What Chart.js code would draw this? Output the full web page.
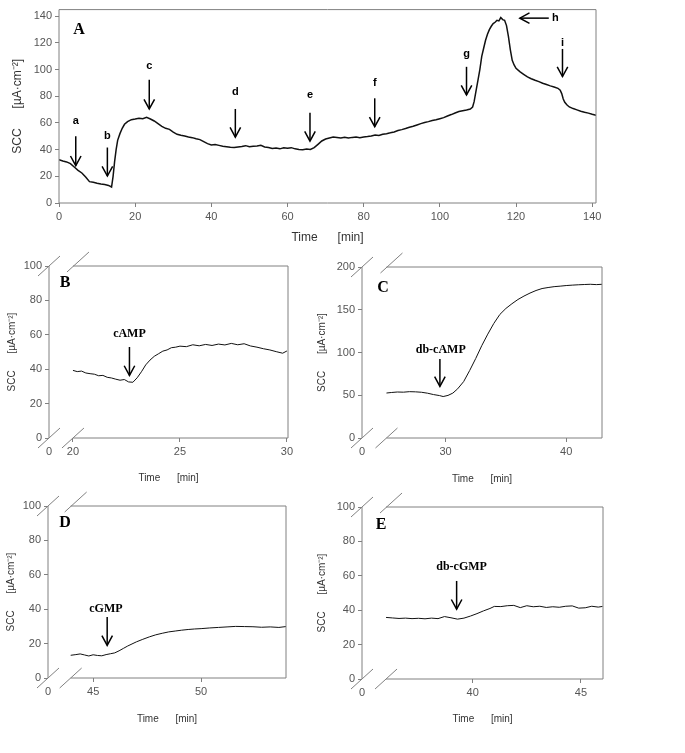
<!DOCTYPE html>
<html>
<head>
<meta charset="utf-8">
<script src="https://cdn.jsdelivr.net/npm/chart.js@4.4.1/dist/chart.umd.min.js"></script>
<style>
  html, body { margin: 0; padding: 0; background: #fff; }
  #figure { position: relative; width: 685px; height: 753px; overflow: hidden; }
  #figure canvas { position: absolute; }
</style>
</head>
<body>
<div id="figure">
  <canvas id="panelA" width="640" height="250" style="left:0;top:0"></canvas>
  <canvas id="panelB" width="330" height="245" style="left:0;top:250px"></canvas>
  <canvas id="panelC" width="385" height="245" style="left:300px;top:250px"></canvas>
  <canvas id="panelD" width="330" height="245" style="left:0;top:490px"></canvas>
  <canvas id="panelE" width="385" height="245" style="left:300px;top:490px"></canvas>
</div>
<script>
// Short-circuit current traces (SCC, uA/cm2) against time (min)

// Panel A - whole experiment
const timeA = [0, 1, 2, 3, 4, 5, 6, 7, 8, 9, 10, 11, 12, 13, 13.8, 14.2, 14.6, 15, 15.4, 16, 16.6, 17.2, 18, 19,
  20, 21, 22, 23, 24, 25, 26, 27, 28, 29, 30, 31, 32, 33, 34, 35, 36, 37, 38, 39, 40, 41, 42, 43, 44, 45,
  46, 47, 48, 49, 50, 51, 52, 53, 54, 55, 56, 57, 58, 59, 60, 61, 62, 63, 64, 65, 66, 67, 68, 69, 70, 71,
  72, 73, 74, 75, 76, 77, 78, 79, 80, 81, 82, 83, 84, 85, 86, 87, 88, 89, 90, 91, 92, 93, 94, 95, 96, 97,
  98, 99, 100, 101, 102, 103, 104, 105, 106, 107, 108, 108.6, 109, 109.5, 110, 110.5, 111, 111.5, 112,
  112.5, 113, 113.5, 114, 114.5, 115, 115.5, 116, 116.5, 117, 117.5, 118, 118.5, 119, 119.5, 120, 121,
  122, 123, 124, 125, 126, 127, 128, 129, 130, 131, 131.6, 132, 132.4, 132.8, 133.4, 134, 135, 136, 137,
  138, 139, 140, 141];
const sccA = [32.5, 31.5, 30.8, 29.5, 27, 24.5, 22.5, 19.5, 16, 15.5, 14.8, 14.2, 13.8, 13.2, 12, 20, 31, 40,
  47, 52, 56, 59, 61, 62.5, 63, 63.6, 63.2, 64.2, 63, 61.5, 59.5, 57.5, 56, 55.2, 53.2, 51.5, 50.8, 50.2,
  49.5, 49, 48.2, 47.5, 46, 44.5, 43.5, 43.8, 43.2, 42.6, 42.2, 41.8, 41.6, 42, 42.4, 43, 42.2, 42.5, 42.8,
  43.2, 42, 41.6, 40.8, 41.2, 40.6, 41.4, 41, 41.5, 40.6, 40.2, 40, 40.4, 40.1, 41.5, 44, 46.5, 48, 48.7,
  49.4, 49.1, 48.8, 49.3, 48.7, 49.2, 49.4, 49, 49.5, 49.8, 50.2, 51, 50.6, 51.5, 52, 52.6, 53.3, 54.3, 55,
  55.8, 56.8, 57.5, 58.5, 59.5, 60.3, 61, 61.8, 62.4, 63.2, 64, 65.2, 66.3, 67.5, 68.6, 69.2, 69.8, 70.5,
  72, 76, 84, 92, 100, 110, 116, 122, 126.5, 130, 132.5, 134.5, 135.5, 137, 136.5, 139, 137.5, 137, 133,
  125, 115, 107, 103.5, 101, 98.5, 96.5, 94.5, 93.2, 92, 91, 89.8, 88.8, 87.8, 87, 86, 84.5, 82, 78, 75.5,
  73.5, 72, 70.8, 69.8, 68.8, 68, 67.4, 66.5, 65.8];
const ticksAX = [0, 20, 40, 60, 80, 100, 120, 140];
const ticksAY = [0, 20, 40, 60, 80, 100, 120, 140];

// Panel B - cAMP
const timeB = [20.0, 20.2, 20.4, 20.6, 20.8, 21.0, 21.2, 21.4, 21.6, 21.8, 22.0, 22.2, 22.4, 22.6, 22.8,
  23.0, 23.2, 23.4, 23.6, 23.8, 24.0, 24.2, 24.4, 24.6, 24.8, 25.0, 25.3, 25.6, 25.9, 26.2, 26.5, 26.8,
  27.1, 27.4, 27.7, 28.0, 28.3, 28.6, 28.9, 29.2, 29.5, 29.8, 30.0];
const sccB = [39.3, 38.6, 38.9, 37.8, 37.4, 37.1, 36.2, 36.4, 35.3, 34.9, 34.2, 33.6, 34.0, 32.6, 32.4,
  35, 38.5, 42.5, 45.3, 47.5, 49, 50.5, 51.2, 52.5, 52.8, 53.4, 53.1, 54.2, 53.6, 54.4, 53.8, 54.6, 54.1,
  55, 54.2, 54.8, 53.5, 52.8, 51.9, 51.2, 50.2, 49.3, 50.6];
const ticksBX = [20, 25, 30];
const ticksBY = [0, 20, 40, 60, 80, 100];

// Panel C - db-cAMP
const timeC = [25.1, 25.5, 26, 26.5, 27, 27.5, 28, 28.5, 29, 29.5, 29.8, 30.2, 30.6, 31, 31.5, 32, 32.5,
  33, 33.5, 34, 34.5, 35, 35.5, 36, 36.5, 37, 37.5, 38, 38.5, 39, 39.5, 40, 40.5, 41, 41.5, 42, 42.5, 43];
const sccC = [52.6, 53.2, 53.8, 53.6, 54.2, 54, 53.5, 52.4, 50.8, 49.6, 48.5, 49.8, 52.5, 57.5, 66, 79,
  93, 108, 121.5, 134, 144.5, 151.5, 157, 162, 166, 169.5, 172.5, 174.8, 176, 177, 177.6, 178.3, 178.8,
  179.2, 179.5, 179.8, 179.4, 179.8];
const ticksCX = [30, 40];
const ticksCY = [0, 50, 100, 150, 200];

// Panel D - cGMP
const timeD = [43.96, 44.2, 44.4, 44.6, 44.8, 45.0, 45.2, 45.4, 45.6, 45.8, 46.0, 46.2, 46.4, 46.6, 46.8,
  47.0, 47.3, 47.6, 47.9, 48.2, 48.5, 48.8, 49.1, 49.4, 49.7, 50.0, 50.4, 50.8, 51.2, 51.6, 52.0, 52.4,
  52.8, 53.2, 53.6, 53.93];
const sccD = [13.2, 13.6, 14, 13.4, 12.8, 13.5, 13.1, 12.9, 13.6, 14.1, 14.6, 15.8, 17.2, 18.6, 19.8, 21,
  22.5, 23.9, 25.1, 26, 26.8, 27.3, 27.8, 28.2, 28.5, 28.7, 29.1, 29.4, 29.7, 30, 29.9, 29.8, 29.5, 29.7,
  29.4, 29.9];
const ticksDX = [45, 50];
const ticksDY = [0, 20, 40, 60, 80, 100];

// Panel E - db-cGMP
const timeE = [36.0, 36.3, 36.6, 36.9, 37.2, 37.5, 37.8, 38.1, 38.4, 38.7, 39.0, 39.3, 39.6, 39.9, 40.2,
  40.5, 40.8, 41.0, 41.3, 41.6, 41.9, 42.2, 42.5, 42.8, 43.1, 43.4, 43.7, 44.0, 44.3, 44.6, 44.9, 45.2,
  45.5, 45.8, 46.0];
const sccE = [35.8, 35.5, 35.2, 35.4, 35.1, 35.3, 35.0, 35.4, 35.1, 36.3, 35.6, 34.8, 35.4, 36.6, 38,
  39.6, 41, 42.2, 42.1, 42.6, 42.8, 41.5, 42.6, 42, 42.3, 41.6, 42, 41.7, 42.3, 42.5, 41.2, 41.4, 42.3,
  41.8, 42.2];
const ticksEX = [40, 45];
const ticksEY = [0, 20, 40, 60, 80, 100];

// Additions marked with arrows (time, arrow span in SCC units)
const additionsA = [
  { label: 'a', x: 4.4, from: 50, to: 28, textY: 61.5 },
  { label: 'b', x: 12.7, from: 41.6, to: 20.2, textY: 50.5 },
  { label: 'c', x: 23.7, from: 92.4, to: 70.5, textY: 103 },
  { label: 'd', x: 46.3, from: 70.5, to: 49.4, textY: 83.4 },
  { label: 'e', x: 65.9, from: 67.6, to: 46.4, textY: 81 },
  { label: 'f', x: 82.9, from: 78.5, to: 57.2, textY: 90.2 },
  { label: 'g', x: 107, from: 102.1, to: 81, textY: 111.9 },
  { label: 'i', x: 132.2, from: 115.5, to: 94.8, textY: 120 }
];
const washoutA = { label: 'h', y: 138.6, from: 128.6, to: 121, textX: 130.3 };

const AXIS_GREY = '#808080';
const TEXT_GREY = '#555';
const SANS = '"Liberation Sans", Arial, sans-serif';
const SERIF = '"Liberation Serif", "Times New Roman", serif';

function strokeLine(ctx, x1, y1, x2, y2) {
  ctx.beginPath();
  ctx.moveTo(x1, y1);
  ctx.lineTo(x2, y2);
  ctx.stroke();
}

function drawArrow(ctx, x1, y1, x2, y2) {
  strokeLine(ctx, x1, y1, x2, y2);
  const ang = Math.atan2(y2 - y1, x2 - x1);
  const head = 11;
  ctx.beginPath();
  ctx.moveTo(x2 - head * Math.cos(ang - 0.5), y2 - head * Math.sin(ang - 0.5));
  ctx.lineTo(x2, y2);
  ctx.lineTo(x2 - head * Math.cos(ang + 0.5), y2 - head * Math.sin(ang + 0.5));
  ctx.stroke();
}

// Frame, axis breaks, arrows and panel letter
function decorations(setup) {
  return {
    id: 'decorations',
    afterDatasetsDraw(chart) {
      const { ctx, chartArea: area, scales: { x, y } } = chart;
      const boxLeft = x.getPixelForValue(setup.boxFrom);
      ctx.save();
      ctx.strokeStyle = AXIS_GREY;
      ctx.lineWidth = 1;
      strokeLine(ctx, area.left, area.top, area.left, area.bottom);
      ctx.beginPath();
      ctx.moveTo(boxLeft, area.top);
      ctx.lineTo(area.right, area.top);
      ctx.lineTo(area.right, area.bottom);
      ctx.lineTo(boxLeft, area.bottom);
      ctx.stroke();

      if (setup.broken) {
        [[area.left, area.bottom], [boxLeft, area.bottom], [area.left, area.top], [boxLeft + 5, area.top - 4]]
          .forEach(([px, py]) => strokeLine(ctx, px - 11, py + 10, px + 11, py - 10));
      }

      ctx.strokeStyle = '#000';
      ctx.fillStyle = '#000';
      ctx.lineWidth = 1.5;
      ctx.textAlign = 'center';
      ctx.textBaseline = 'middle';
      ctx.font = setup.arrowFont;
      setup.arrows.forEach(a => {
        const px = x.getPixelForValue(a.x);
        drawArrow(ctx, px, y.getPixelForValue(a.from), px, y.getPixelForValue(a.to));
        ctx.fillText(a.label, x.getPixelForValue(a.textX ?? a.x), y.getPixelForValue(a.textY));
      });
      if (setup.sideArrow) {
        const s = setup.sideArrow;
        const py = y.getPixelForValue(s.y);
        drawArrow(ctx, x.getPixelForValue(s.from), py, x.getPixelForValue(s.to), py);
        ctx.fillText(s.label, x.getPixelForValue(s.textX), py);
      }

      ctx.font = 'bold 16px ' + SERIF;
      ctx.fillText(setup.letter, area.left + setup.letterAt[0], area.top + setup.letterAt[1]);
      ctx.restore();
    }
  };
}

function buildPanel(canvasId, setup) {
  const points = setup.times.map((t, i) => ({ x: t, y: setup.values[i] }));
  const xTicks = setup.broken ? [setup.xMin, ...setup.xTicks] : setup.xTicks;
  return new Chart(document.getElementById(canvasId), {
    type: 'line',
    data: {
      datasets: [{
        data: points,
        borderColor: '#111',
        borderWidth: setup.lineWidth,
        pointRadius: 0,
        tension: 0,
        fill: false
      }]
    },
    options: {
      responsive: false,
      animation: false,
      events: [],
      layout: { padding: { left: 0, top: setup.area.top, right: setup.area.right, bottom: 0 } },
      plugins: { legend: { display: false }, tooltip: { enabled: false } },
      scales: {
        x: {
          type: 'linear',
          min: setup.xMin,
          max: setup.xMax,
          border: { display: false },
          grid: {
            drawOnChartArea: false,
            tickLength: 4,
            tickColor: c => (setup.broken && c.index === 0) ? 'rgba(0,0,0,0)' : AXIS_GREY
          },
          afterBuildTicks: s => { s.ticks = xTicks.map(v => ({ value: v })); },
          afterFit: s => { s.height = setup.area.xHeight; },
          ticks: {
            color: TEXT_GREY,
            font: { family: SANS, size: 11 },
            padding: 3,
            maxRotation: 0,
            autoSkip: false,
            callback: (v, i) => (setup.broken && i === 0) ? '0' : String(v)
          },
          title: {
            display: true,
            text: 'Time      [min]',
            color: '#333',
            font: { family: SANS, size: setup.titleSize },
            padding: { top: 0, bottom: setup.xTitlePad }
          }
        },
        y: {
          min: 0,
          max: setup.yMax,
          border: { display: false },
          grid: { drawOnChartArea: false, tickLength: 4, tickColor: AXIS_GREY },
          afterBuildTicks: s => { s.ticks = setup.yTicks.map(v => ({ value: v })); },
          afterFit: s => { s.width = setup.area.left; },
          ticks: {
            color: TEXT_GREY,
            font: { family: SANS, size: 11 },
            padding: 3,
            autoSkip: false
          },
          title: {
            display: true,
            text: 'SCC      [µA·cm⁻²]',
            color: '#333',
            font: { family: SANS, size: setup.titleSize },
            padding: { top: setup.yTitlePad, bottom: 0 }
          }
        }
      }
    },
    plugins: [decorations(setup)]
  });
}

buildPanel('panelA', {
  times: timeA, values: sccA, xMin: 0, xMax: 141, yMax: 145, xTicks: ticksAX, yTicks: ticksAY,
  boxFrom: 0, broken: false, lineWidth: 1.5, titleSize: 12, xTitlePad: 5, yTitlePad: 10,
  area: { left: 59, top: 4, right: 44, xHeight: 47 },
  arrows: additionsA, sideArrow: washoutA, arrowFont: 'bold 11px ' + SANS,
  letter: 'A', letterAt: [20, 20]
});

buildPanel('panelB', {
  times: timeB, values: sccB, xMin: 18.88, xMax: 30.05, yMax: 100, xTicks: ticksBX, yTicks: ticksBY,
  boxFrom: 20, broken: true, lineWidth: 1, titleSize: 10, xTitlePad: 11, yTitlePad: 6,
  area: { left: 49, top: 16, right: 42, xHeight: 57 },
  arrows: [{ label: 'cAMP', x: 22.64, from: 52.9, to: 36.4, textY: 60.7 }], arrowFont: 'bold 12px ' + SERIF,
  letter: 'B', letterAt: [16, 17]
});

buildPanel('panelC', {
  times: timeC, values: sccC, xMin: 23.07, xMax: 42.97, yMax: 200, xTicks: ticksCX, yTicks: ticksCY,
  boxFrom: 25.1, broken: true, lineWidth: 1, titleSize: 10, xTitlePad: 10, yTitlePad: 16,
  area: { left: 62, top: 17, right: 83, xHeight: 57 },
  arrows: [{ label: 'db-cAMP', x: 29.53, from: 92.4, to: 60.4, textY: 102.5, textX: 29.6 }],
  arrowFont: 'bold 12px ' + SERIF,
  letter: 'C', letterAt: [21, 21]
});

buildPanel('panelD', {
  times: timeD, values: sccD, xMin: 42.91, xMax: 53.93, yMax: 100, xTicks: ticksDX, yTicks: ticksDY,
  boxFrom: 43.96, broken: true, lineWidth: 1, titleSize: 10, xTitlePad: 10, yTitlePad: 5,
  area: { left: 48, top: 16, right: 44, xHeight: 57 },
  arrows: [{ label: 'cGMP', x: 45.65, from: 35.5, to: 19, textY: 40.3, textX: 45.59 }],
  arrowFont: 'bold 12px ' + SERIF,
  letter: 'D', letterAt: [17, 17]
});

buildPanel('panelE', {
  times: timeE, values: sccE, xMin: 34.89, xMax: 46.02, yMax: 100, xTicks: ticksEX, yTicks: ticksEY,
  boxFrom: 36.0, broken: true, lineWidth: 1, titleSize: 10, xTitlePad: 10, yTitlePad: 16,
  area: { left: 62, top: 17, right: 82, xHeight: 56 },
  arrows: [{ label: 'db-cGMP', x: 39.26, from: 57, to: 40.6, textY: 65.2, textX: 39.49 }],
  arrowFont: 'bold 12px ' + SERIF,
  letter: 'E', letterAt: [19, 18]
});
</script>
</body>
</html>
